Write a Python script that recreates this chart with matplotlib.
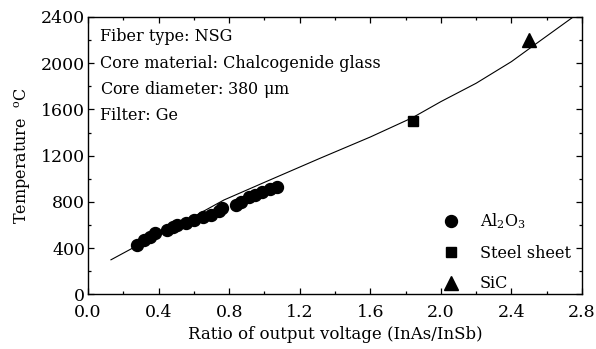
import matplotlib
matplotlib.use('Agg')
import matplotlib.pyplot as plt
from matplotlib.ticker import MultipleLocator

plt.rcParams['font.family'] = ['DejaVu Serif']
plt.rcParams['mathtext.fontset'] = 'dejavuserif'

# ---- data ----
al2o3_x = [0.280, 0.319, 0.352, 0.380, 0.449, 0.481, 0.503, 0.557, 0.600, 0.654,
           0.697, 0.740, 0.761, 0.837, 0.869, 0.912, 0.945, 0.988, 1.031, 1.070]
al2o3_t = [430, 467, 496, 530, 559, 582, 602, 622, 645, 668,
           688, 725, 745, 774, 803, 846, 860, 889, 909, 932]
steel_x, steel_t = [1.84], [1500]
sic_x, sic_t = [2.50], [2200]

# calibration curve (sampled from the drawn fit)
fit_x = [0.13, 0.30, 0.50, 0.77, 1.00, 1.315, 1.60, 1.84, 2.00, 2.20, 2.40, 2.53, 2.75]
fit_t = [300, 440, 590, 817, 970, 1178, 1362, 1530, 1668, 1827, 2014, 2158, 2400]

info = ['Fiber type: NSG', 'Core material: Chalcogenide glass',
        r'Core diameter: 380 $\mathrm{\mu}$m', 'Filter: Ge']

fig = plt.figure(figsize=(5.96, 3.49), dpi=100)
ax = fig.add_axes([0.1477, 0.1562, 0.8288, 0.7951])

ax.plot(fit_x, fit_t, color='black', lw=0.8)
ax.plot(al2o3_x, al2o3_t, 'o', color='black', ms=8.6, label=r'Al$_{\mathrm{2}}$O$_{\mathrm{3}}$')
ax.plot(steel_x, steel_t, 's', color='black', ms=7.5, label='Steel sheet')
ax.plot(sic_x, sic_t, '^', color='black', ms=9.5, label='SiC')

ax.set_xlim(0, 2.8)
ax.set_ylim(0, 2400)
ax.xaxis.set_major_locator(MultipleLocator(0.4))
ax.xaxis.set_minor_locator(MultipleLocator(0.2))
ax.yaxis.set_major_locator(MultipleLocator(400))
ax.yaxis.set_minor_locator(MultipleLocator(200))
ax.set_xticklabels([f'{v:.1f}' for v in ax.get_xticks()])
ax.tick_params(which='both', direction='in', top=True, right=True, labelsize=12.5)
ax.tick_params(axis='x', pad=6.5)
ax.tick_params(axis='y', pad=2)
ax.tick_params(which='major', length=4, width=0.9)
ax.tick_params(which='minor', length=2.5, width=0.9)
for s in ax.spines.values():
    s.set_linewidth(1.0)

ax.set_xlabel('Ratio of output voltage (InAs/InSb)', fontsize=12, labelpad=4)
ax.set_ylabel(r'Temperature  $^{\mathrm{o}}$C', fontsize=11.5, labelpad=6)

for i, line in enumerate(info):
    ax.text(0.024, 0.928 - i * 0.094, line, transform=ax.transAxes, fontsize=11.5, va='center')

ax.legend(loc='lower right', frameon=False, fontsize=11.5, handletextpad=0.8,
          labelspacing=0.85, borderaxespad=0.0, bbox_to_anchor=(0.99, -0.015))

fig.savefig('out.png', dpi=100)
